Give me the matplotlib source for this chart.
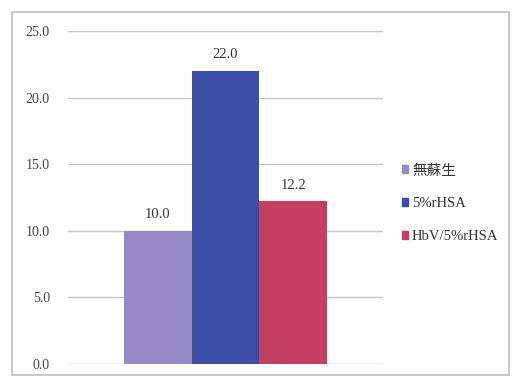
import matplotlib
matplotlib.use("Agg")
from matplotlib import pyplot as plt
from matplotlib.patches import Rectangle

groups = ["無蘇生", "5%rHSA", "HbV/5%rHSA"]
values = [10.0, 22.0, 12.2]
colors = ["#958ac6", "#3d4ea6", "#c23f62"]
yticks = [0, 5, 10, 15, 20, 25]

plt.rcParams["font.family"] = ["Liberation Serif", "Noto Sans CJK JP"]

fig = plt.figure(figsize=(5.14, 3.78), dpi=100)
fig.patch.set_facecolor("white")
W, H = 514, 378
ax = fig.add_axes([68 / W, 1 - 364 / H, (383 - 68) / W, (364 - 31) / H])

# outer chart border
fig.patches.append(Rectangle((12 / W, 1 - 375 / H), (509 - 12) / W, (375 - 12) / H,
                             transform=fig.transFigure, fill=False,
                             edgecolor="#c4c4c4", linewidth=1.3))

xs = [-1, 0, 1]
ax.bar(xs, values, width=1.0, color=colors, zorder=3)
for x, v in zip(xs, values):
    ax.text(x, v + 0.75, f"{v:.1f}", ha="center", va="bottom", fontsize=10.5, color="#333333")

ax.set_xlim(-2.32, 2.32)
ax.set_ylim(0, 25)
ax.set_yticks(yticks)
ax.set_yticklabels([f"{t:.1f}" for t in yticks], fontsize=10, color="#444444")
ax.set_xticks([])
ax.tick_params(axis="y", length=0, pad=13)
ax.grid(axis="y", color="#c4c4c4", linewidth=1.0, zorder=0)
for s in ax.spines.values():
    s.set_visible(False)

handles = [Rectangle((0, 0), 1, 1, color=c) for c in colors]
leg = fig.legend(handles, groups, loc="upper left", bbox_to_anchor=(396 / W, 1 - 158 / H),
                 frameon=False, fontsize=10.5, handlelength=0.45, handleheight=0.45,
                 handletextpad=0.25, labelspacing=1.35, borderaxespad=0)
for t in leg.get_texts():
    t.set_color("#333333")

fig.savefig("out.png", dpi=100)
